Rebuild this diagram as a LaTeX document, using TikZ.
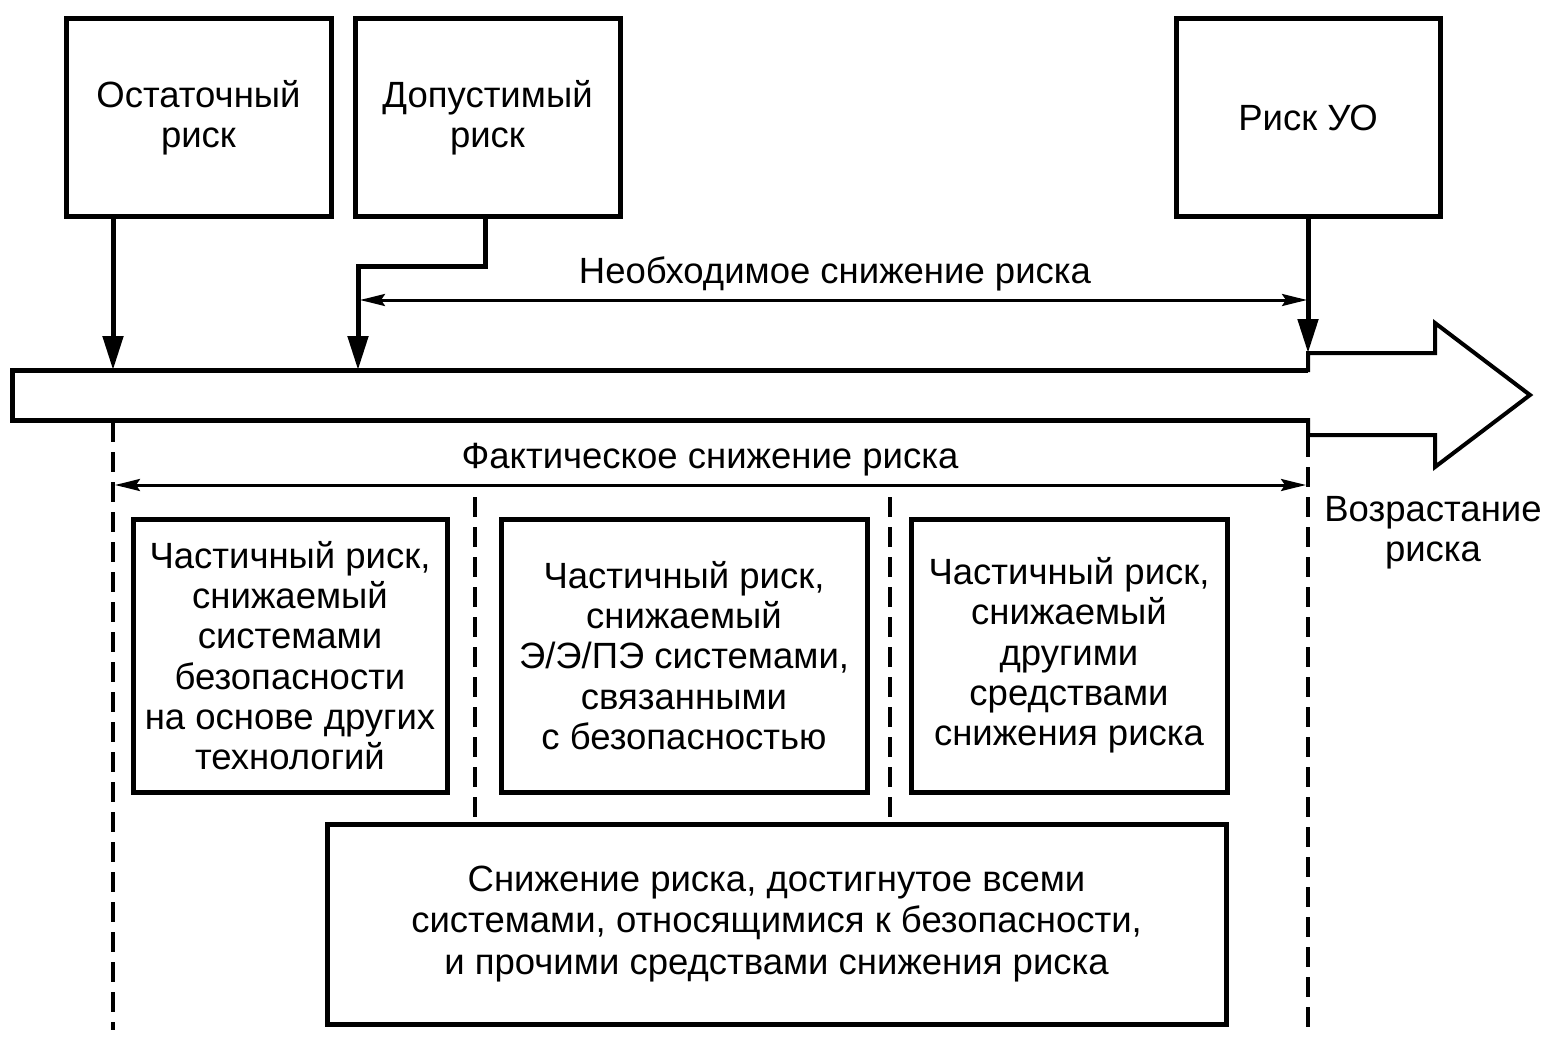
\documentclass[tikz,border=0pt]{standalone}
\usepackage{fontspec}
\setmainfont{Liberation Sans}
\usetikzlibrary{arrows.meta}
\begin{document}
\begin{tikzpicture}[x=1pt,y=-1pt,
  txt/.style={font=\fontsize{36.5}{40.3}\selectfont,align=center,inner sep=0pt},
  box/.style={txt,draw,line width=5pt},
  conn/.style={line width=5pt},
  bigtip/.style={-{Triangle[length=34pt,width=20pt]}},
  thinarr/.style={line width=3pt,{Stealth[length=25pt,width=12pt,inset=4pt]}-{Stealth[length=25pt,width=12pt,inset=4pt]}},
  dashline/.style={line width=3.5pt,dash pattern=on 20pt off 10pt}]
\useasboundingbox (0,0) rectangle (1553,1043);

% top boxes
\node[box,minimum width=265pt,minimum height=198pt] (ost) at (198.5,118) {Остаточный\\риск};
\node[box,minimum width=265pt,minimum height=198pt] (dop) at (487.5,118) {Допустимый\\риск};
\node[box,minimum width=264pt,minimum height=198pt] (uo) at (1308,118) {Риск УО};

% big arrow
\draw[line width=5pt,line join=miter] (1308,370) -- (12,370) -- (12,420) -- (1308,420);
\draw[line width=4pt,line join=miter] (1308,372) -- (1308,353) -- (1435,353) -- (1435,323) -- (1530,395) -- (1435,467) -- (1435,435) -- (1308,435) -- (1308,418);

% coordinates on the bar
\coordinate (a1) at (113,370);
\coordinate (a2) at (358,370);
\coordinate (a3) at (1308,353);
\coordinate (dk) at (485,266);

% connectors from top boxes
\draw[conn,bigtip] (ost.south -| a1) -- (a1);
\draw[conn,bigtip,line join=miter] (dop.south -| dk) -- (dk) -| (a2);
\draw[conn,bigtip] (uo.south) -- (a3);

% required reduction
\coordinate (n1) at (360,300);
\coordinate (n2) at (1307,300);
\draw[thinarr] (n1) -- (n2);
\node[txt] (nlab) at (835,274) {Необходимое снижение риска};

% dashed lines
\coordinate (d1t) at (113,422);
\coordinate (d1b) at (113,1030);
\coordinate (d2t) at (1308,437);
\coordinate (d2b) at (1308,1030);
\draw[dashline] (d1t) -- (d1b);
\draw[dashline] (d2t) -- (d2b);

% actual reduction
\coordinate (f1) at (115,485);
\coordinate (f2) at (1306,485);
\draw[thinarr] (f1) -- (f2);
\node[txt] (flab) at (710,460) {Фактическое снижение риска};

\node[txt] (voz) at (1433,533) {Возрастание\\риска};

% middle boxes
\node[box,minimum width=314pt,minimum height=273pt] (pa) at (290,655.5) {Частичный риск,\\снижаемый\\системами\\безопасности\\на основе других\\технологий};
\node[box,minimum width=366pt,minimum height=273pt] (pb) at (684,655.5) {Частичный риск,\\снижаемый\\Э/Э/ПЭ системами,\\связанными\\с безопасностью};
\node[box,minimum width=316pt,minimum height=273pt] (pc) at (1069,655.5) {Частичный риск,\\снижаемый\\другими\\средствами\\снижения риска};

% bottom box
\node[box,minimum width=899pt,minimum height=200pt,font=\fontsize{36.5}{41.5}\selectfont] (all) at (776.5,924) {Снижение риска, достигнутое всеми\\системами, относящимися к безопасности,\\и прочими средствами снижения риска};

% inner dashed lines
\coordinate (m1) at (475,497);
\coordinate (m2) at (890,497);
\draw[dashline] (m1) -- (m1 |- all.north);
\draw[dashline] (m2) -- (m2 |- all.north);
\end{tikzpicture}
\end{document}
